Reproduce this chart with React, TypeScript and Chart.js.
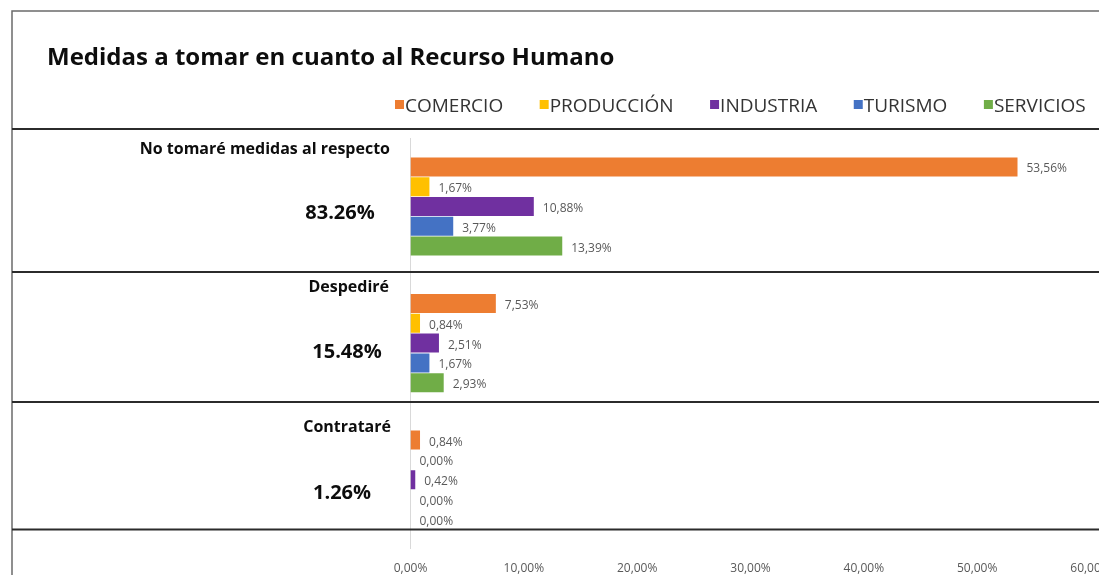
import { useEffect, useRef } from "react";
import { Chart, registerables } from "chart.js";

Chart.register(...registerables);

// ---------- data ----------
const chartTitle = "Medidas a tomar en cuanto al Recurso Humano";
const categories = ["No tomaré medidas al respecto", "Despediré", "Contrataré"];
const groupTotals = [83.26, 15.48, 1.26];
const sectors = ["COMERCIO", "PRODUCCIÓN", "INDUSTRIA", "TURISMO", "SERVICIOS"];
const comercio = [53.56, 7.53, 0.84];
const produccion = [1.67, 0.84, 0.0];
const industria = [10.88, 2.51, 0.42];
const turismo = [3.77, 1.67, 0.0];
const servicios = [13.39, 2.93, 0.0];
const xTickValues = [0, 10, 20, 30, 40, 50, 60];

// ---------- styles / layout ----------
const sectorColors = ["#ED7D31", "#FFC000", "#7030A0", "#4472C4", "#70AD47"];
const FONT = "'Open Sans', 'DejaVu Sans', sans-serif";
const CANVAS_W = 1140;
const CANVAS_H = 592;
const PLOT_LEFT = 410.5;
const PLOT_RIGHT = 1090.5;
const PLOT_TOP = 138.2;
const PLOT_BOTTOM = 548;
const TICK_FONT = 12;
const TICK_PAD = 13;
const BORDER_LEFT = 12;
const BORDER_TOP = 11;
const SEPARATORS = [129, 272, 402, 529.5];
const TITLE_POS = { x: 47, baseline: 65, size: 24 };
const LEGEND_POS = { x: 395, baseline: 111.5, size: 19, box: 9, boxTop: 100, textGap: 10, itemGap: 36.5 };
const GROUP_TITLE_SIZE = 16;
const GROUP_TITLE_RIGHT = [390, 389, 391];
const GROUP_TITLE_BASE = [153.5, 292, 432];
const GROUP_PCT_CENTER = [340, 347, 342];
const GROUP_PCT_BASE = [219, 358, 499];

const fmtComma = (v: number) => v.toFixed(2).replace(".", ",") + "%";
const fmtDot = (v: number) => v.toFixed(2) + "%";

const seriesValues = [comercio, produccion, industria, turismo, servicios];

const decorPlugin = {
  id: "decor",
  afterDraw(chart: any) {
    const ctx = chart.ctx as CanvasRenderingContext2D;
    const W = chart.width;
    const H = chart.height;
    ctx.save();

    // outer frame
    ctx.strokeStyle = "#6b6b6b";
    ctx.lineWidth = 1.5;
    ctx.beginPath();
    ctx.moveTo(BORDER_LEFT, H + 5);
    ctx.lineTo(BORDER_LEFT, BORDER_TOP);
    ctx.lineTo(W + 5, BORDER_TOP);
    ctx.stroke();

    // separators
    ctx.strokeStyle = "#2b2b2b";
    ctx.lineWidth = 2;
    SEPARATORS.forEach((y) => {
      ctx.beginPath();
      ctx.moveTo(BORDER_LEFT, y);
      ctx.lineTo(W + 5, y);
      ctx.stroke();
    });

    // title
    ctx.fillStyle = "#0d0d0d";
    ctx.textAlign = "left";
    ctx.textBaseline = "alphabetic";
    ctx.font = `bold ${TITLE_POS.size}px ${FONT}`;
    ctx.fillText(chartTitle, TITLE_POS.x, TITLE_POS.baseline);

    // legend
    ctx.font = `${LEGEND_POS.size}px ${FONT}`;
    let lx = LEGEND_POS.x;
    chart.data.datasets.forEach((ds: any) => {
      ctx.fillStyle = ds.backgroundColor;
      ctx.fillRect(lx, LEGEND_POS.boxTop, LEGEND_POS.box, LEGEND_POS.box);
      ctx.fillStyle = "#333333";
      const tx = lx + LEGEND_POS.textGap;
      ctx.fillText(ds.label, tx, LEGEND_POS.baseline);
      lx = tx + ctx.measureText(ds.label).width + LEGEND_POS.itemGap;
    });

    // group labels
    ctx.fillStyle = "#0d0d0d";
    chart.data.labels.forEach((lab: string, i: number) => {
      ctx.font = `bold ${GROUP_TITLE_SIZE}px ${FONT}`;
      ctx.textAlign = "right";
      ctx.fillText(lab, GROUP_TITLE_RIGHT[i], GROUP_TITLE_BASE[i]);
      ctx.font = `bold 20px ${FONT}`;
      ctx.textAlign = "center";
      ctx.fillText(fmtDot(groupTotals[i]), GROUP_PCT_CENTER[i], GROUP_PCT_BASE[i]);
    });

    // data labels
    ctx.font = `${TICK_FONT}px ${FONT}`;
    ctx.fillStyle = "#595959";
    ctx.textAlign = "left";
    ctx.textBaseline = "middle";
    chart.data.datasets.forEach((ds: any, di: number) => {
      const meta = chart.getDatasetMeta(di);
      meta.data.forEach((el: any, j: number) => {
        ctx.fillText(fmtComma(ds.data[j]), el.x + 9, el.y + 2);
      });
    });

    ctx.restore();
  },
};

export default function App() {
  const ref = useRef<HTMLCanvasElement | null>(null);

  useEffect(() => {
    if (!ref.current) return;
    Chart.defaults.font.family = FONT;
    const axisHeight = TICK_PAD * 2 + TICK_FONT * 1.2;
    const chart = new Chart(ref.current, {
      type: "bar",
      data: {
        labels: categories,
        datasets: sectors.map((s, i) => ({
          label: s,
          data: seriesValues[i],
          backgroundColor: sectorColors[i],
          borderWidth: 0,
          categoryPercentage: 0.725,
          barPercentage: 0.96,
        })),
      },
      options: {
        indexAxis: "y",
        animation: false,
        responsive: false,
        devicePixelRatio: 1,
        layout: {
          padding: {
            top: PLOT_TOP,
            right: CANVAS_W - PLOT_RIGHT,
            bottom: CANVAS_H - PLOT_BOTTOM - axisHeight,
            left: 0,
          },
        },
        plugins: {
          legend: { display: false },
          title: { display: false },
          tooltip: { enabled: false },
        },
        scales: {
          x: {
            min: 0,
            max: 60,
            afterBuildTicks: (s: any) => {
              s.ticks = xTickValues.map((v) => ({ value: v }));
            },
            grid: { display: false, drawTicks: false },
            border: { display: false },
            ticks: {
              autoSkip: false,
              maxRotation: 0,
              padding: TICK_PAD,
              color: "#595959",
              font: { size: TICK_FONT },
              callback: (v: any) => fmtComma(Number(v)),
            },
          },
          y: {
            grid: { display: false, drawTicks: false },
            border: { display: true, color: "#D9D9D9", width: 1 },
            ticks: { display: false },
            afterFit: (s: any) => {
              s.width = PLOT_LEFT;
            },
          },
        },
      },
      plugins: [decorPlugin],
    } as any);
    return () => chart.destroy();
  }, []);

  return (
    <div
      style={{
        position: "fixed",
        left: 0,
        top: 0,
        width: 1099,
        height: 575,
        overflow: "hidden",
        background: "#fff",
      }}
    >
      <canvas ref={ref} width={CANVAS_W} height={CANVAS_H} style={{ display: "block" }} />
    </div>
  );
}
